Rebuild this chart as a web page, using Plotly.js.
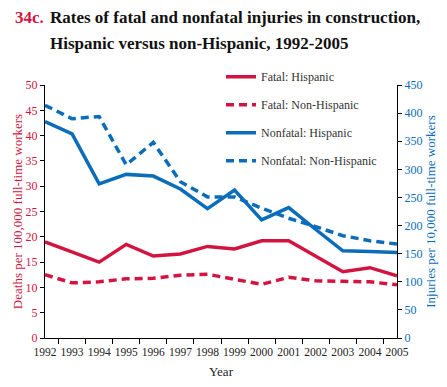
<!DOCTYPE html>
<html>
<head>
<meta charset="utf-8">
<script src="https://cdn.plot.ly/plotly-3.0.1.min.js"></script>
<style>html,body{margin:0;padding:0;background:#fff;overflow:hidden;}#chart{width:447px;height:387px;}</style>
</head>
<body>
<div id="chart"></div>
<script>
const years = ['1992','1993','1994','1995','1996','1997','1998','1999','2000','2001','2002','2003','2004','2005'];
const fatalHispanic    = [19.0, 17.0, 15.0, 18.5, 16.2, 16.6, 18.1, 17.6, 19.2, 19.2, 16.1, 13.1, 13.9, 12.3];
const fatalNonHispanic = [12.5, 10.9, 11.1, 11.7, 11.8, 12.4, 12.6, 11.6, 10.6, 12.0, 11.3, 11.2, 11.1, 10.5];
const nonfatalHispanic    = [385, 363, 274, 291, 288, 265, 230, 263, 210, 232, 193, 155, 154, 152];
const nonfatalNonHispanic = [414, 390, 394, 308, 348, 278, 251, 251, 231, 213, 198, 182, 173, 167];
const seriesNames = ['Fatal: Hispanic','Fatal: Non-Hispanic','Nonfatal: Hispanic','Nonfatal: Non-Hispanic'];

const RED = '#d31440';
const BLUE = '#0b6dba';
const FONT = 'Liberation Serif, Times New Roman, serif';

const traces = [
  {x: years, y: fatalHispanic, name: seriesNames[0], legendgroup: 'a', type: 'scatter', mode: 'lines', line: {color: RED, width: 3.5}, yaxis: 'y'},
  {x: years, y: fatalNonHispanic, name: seriesNames[1], legendgroup: 'b', type: 'scatter', mode: 'lines', line: {color: RED, width: 3.5, dash: '8px,5px'}, yaxis: 'y'},
  {x: years, y: nonfatalHispanic, name: seriesNames[2], legendgroup: 'c', type: 'scatter', mode: 'lines', line: {color: BLUE, width: 3.5}, yaxis: 'y2'},
  {x: years, y: nonfatalNonHispanic, name: seriesNames[3], legendgroup: 'd', type: 'scatter', mode: 'lines', line: {color: BLUE, width: 3.5, dash: '8px,5px'}, yaxis: 'y2'}
];

const layout = {
  width: 447, height: 387,
  margin: {l: 45, r: 50, t: 85, b: 49},
  paper_bgcolor: '#fff', plot_bgcolor: '#fff',
  font: {family: FONT, size: 12, color: '#222'},
  showlegend: true,
  legend: {x: 0.5, xanchor: 'left', y: 1.09, yanchor: 'top', bgcolor: 'rgba(0,0,0,0)',
           font: {family: FONT, size: 12, color: '#333'}, tracegroupgap: 9, itemwidth: 30},
  xaxis: {
    type: 'category', range: [0, 13], tickson: 'boundaries', tickangle: 0,
    showline: true, linecolor: '#000', linewidth: 1, mirror: false,
    ticks: 'outside', ticklen: 5, tickcolor: '#000', showgrid: false, zeroline: false,
    ticklabelstandoff: 3,
    tickfont: {family: FONT, size: 11.5, color: '#222'},
    title: {text: 'Year', font: {family: FONT, size: 13, color: '#222'}, standoff: 10}
  },
  yaxis: {
    range: [0, 50], dtick: 5, showline: true, linecolor: '#000', linewidth: 1,
    ticks: 'outside', ticklen: 4, tickcolor: '#000', showgrid: false, zeroline: false,
    tickfont: {family: FONT, size: 12, color: RED},
    title: {text: 'Deaths per 100,000 full-time workers', font: {family: FONT, size: 13, color: RED}, standoff: 0}
  },
  yaxis2: {
    range: [0, 450], dtick: 50, overlaying: 'y', side: 'right', showline: true, linecolor: '#000', linewidth: 1,
    ticks: 'outside', ticklen: 4, tickcolor: '#000', showgrid: false, zeroline: false,
    tickfont: {family: FONT, size: 12, color: BLUE},
    title: {text: 'Injuries per 10,000 full-time workers', font: {family: FONT, size: 13, color: BLUE}, standoff: 4}
  },
  annotations: [
    {xref: 'paper', yref: 'paper', x: -0.091, y: 1.265, xanchor: 'left', yanchor: 'middle', showarrow: false,
     text: '<b>34c.</b>', font: {family: FONT, size: 17, color: RED}},
    {xref: 'paper', yref: 'paper', x: 0.009, y: 1.265, xanchor: 'left', yanchor: 'middle', showarrow: false,
     text: '<b>Rates of fatal and nonfatal injuries in construction,</b>', font: {family: FONT, size: 17, color: '#111'}},
    {xref: 'paper', yref: 'paper', x: 0.009, y: 1.166, xanchor: 'left', yanchor: 'middle', showarrow: false,
     text: '<b>Hispanic versus non-Hispanic, 1992-2005</b>', font: {family: FONT, size: 17, color: '#111'}}
  ]
};

Plotly.newPlot('chart', traces, layout, {displayModeBar: false, staticPlot: true});
</script>
</body>
</html>
